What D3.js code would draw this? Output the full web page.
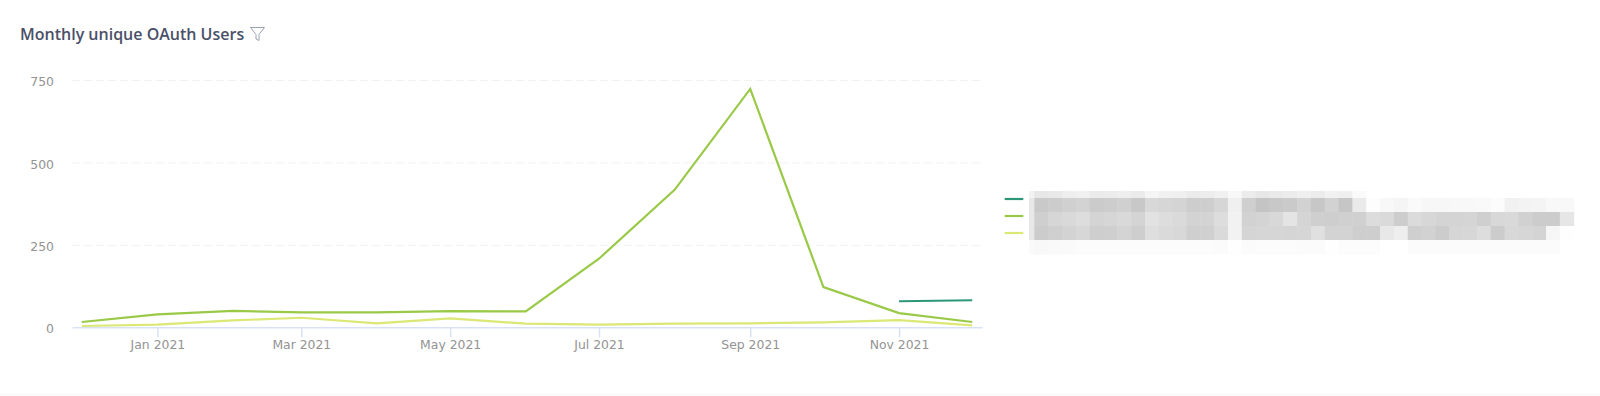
<!DOCTYPE html>
<html>
<head>
<script src="https://d3js.org/d3.v7.min.js"></script>
<style>
  body { margin: 0; background: #fff; }
</style>
</head>
<body>
<svg class="target" width="1600" height="396" style="display:block"></svg>
<script>

// one point per month, Dec 2020 to Dec 2021
const months = ['2020-12-01','2021-01-01','2021-02-01','2021-03-01','2021-04-01','2021-05-01','2021-06-01',
                '2021-07-01','2021-08-01','2021-09-01','2021-10-01','2021-11-01','2021-12-01']

const greenValues = [16, 39, 50, 45, 45, 49, 48, 208, 417, 723, 122, 43, 16]
const limeValues  = [4, 8, 21, 29, 12, 27, 11, 8, 11, 12, 15, 22, 6]
// this one only starts in november
const tealMonths = ['2021-11-01','2021-12-01']
const tealValues = [79, 82]

const yTicks = [0, 250, 500, 750]
const xTicks = ['2021-01-01','2021-03-01','2021-05-01','2021-07-01','2021-09-01','2021-11-01']

// legend names are pixelated in the source, so only the grey levels can be read
const mosaicRows = [
  [242,231,233,238,240,235,236,238,235,245,240,239,235,237,240,248,236,231,234,236,239,236,241,239,250,255,255,255,255,255,255,255,255,255,255,255,255,255,255,255],
  [232,201,204,208,211,203,205,208,200,216,214,212,205,206,214,240,207,196,200,202,210,199,210,198,234,253,248,245,250,247,247,248,248,249,252,241,243,244,248,248],
  [232,207,214,217,221,212,214,217,212,226,221,218,211,212,221,242,210,212,216,228,213,207,206,208,208,220,218,205,219,215,212,212,213,207,216,217,209,204,204,230],
  [232,204,207,211,215,206,207,212,206,222,218,216,207,208,218,242,213,214,214,213,214,224,211,211,206,206,232,238,207,210,204,214,215,221,204,216,214,212,246,254],
  [250,248,249,250,252,252,252,252,252,252,252,252,252,252,251,254,251,252,252,252,251,251,254,252,252,252,255,255,251,251,251,251,251,251,251,251,251,251,251,255]
]

const width = 1600
const height = 396
const margin = { top: 80, right: 618, bottom: 68.7, left: 72 }
const axisColor = '#d8e2f3'
const labelColor = '#939393'
const labelFont = '"DejaVu Sans", sans-serif'

const parseDay = d3.utcParse('%Y-%m-%d')

const xScale = d3.scaleUtc(
  [parseDay('2020-11-27'), parseDay('2021-12-05')],
  [margin.left, width - margin.right]
)

const yScale = d3.scaleLinear([0, 750], [height - margin.bottom, margin.top])

const svg = d3.select('.target')

svg.append('rect')
    .attr('y', 393)
    .attr('width', width)
    .attr('height', 3)
    .attr('fill', '#fbfbfb')

svg.append('text')
    .attr('x', 20)
    .attr('y', 40)
    .style('font-family', '"Open Sans", sans-serif')
    .style('font-weight', 600)
    .style('font-size', '16px')
    .style('fill', '#4a5068')
    .text('Monthly unique OAuth Users')

// funnel icon next to the title
svg.append('path')
    .attr('d', 'M250.5 27.5H264.5L259 34.5V40.5L256 39V34.5Z')
    .attr('fill', 'none')
    .attr('stroke', '#9aa1b0')
    .attr('stroke-width', 1)

// gridlines + y labels
const yAxis = d3.axisLeft(yScale)
    .tickValues(yTicks.slice(1))
    .tickSize(-(width - margin.right - margin.left))
    .tickPadding(18)

svg.append('g')
    .attr('transform', `translate(${margin.left},0)`)
    .call(yAxis)
    .call(g => g.select('.domain').remove())
    .call(g => g.selectAll('.tick line')
      .attr('stroke', '#f2f2f2')
      .attr('stroke-dasharray', '8 4'))
    .call(g => g.selectAll('.tick text').attr('dy', '0.45em'))

// the zero label sits on the axis line, no gridline there
svg.append('g')
    .attr('transform', `translate(${margin.left},0)`)
    .call(d3.axisLeft(yScale).tickValues(yTicks.slice(0, 1)).tickSize(0).tickPadding(18))
    .call(g => g.select('.domain').remove())
    .call(g => g.selectAll('.tick text').attr('dy', '0.45em'))

const xAxis = d3.axisBottom(xScale)
    .tickValues(xTicks.map(parseDay))
    .tickFormat(d3.utcFormat('%b %Y'))
    .tickSizeInner(10)
    .tickSizeOuter(0)
    .tickPadding(2.5)

svg.append('g')
    .attr('transform', `translate(0,${height - margin.bottom})`)
    .call(xAxis)
    .call(g => g.select('.domain').attr('stroke', axisColor).attr('stroke-width', 1.5))
    .call(g => g.selectAll('.tick line').attr('stroke', axisColor).attr('stroke-width', 1.5))

svg.selectAll('.tick text')
    .style('font-family', labelFont)
    .style('font-size', '12.4px')
    .style('fill', labelColor)

const line = d3.line()
    .x(d => xScale(d.date))
    .y(d => yScale(d.value))

const zipSeries = (dates, values) => dates.map((m, i) => ({ date: parseDay(m), value: values[i] }))

const series = [
  { color: '#2e9678', points: zipSeries(tealMonths, tealValues) },
  { color: '#99c947', points: zipSeries(months, greenValues) },
  { color: '#dbe875', points: zipSeries(months, limeValues) }
]

svg.append('defs').append('filter')
    .attr('id', 'soft')
    .attr('x', '-5%').attr('y', '-20%').attr('width', '110%').attr('height', '140%')
  .append('feGaussianBlur')
    .attr('stdDeviation', 0.7)

// draw lime first so that green stays on top, as in the reference
svg.append('g')
    .selectAll('path')
    .data(series.slice().reverse())
    .join('path')
      .attr('d', d => line(d.points))
      .attr('fill', 'none')
      .attr('stroke', d => d.color)
      .attr('stroke-width', 2.2)

// legend
const legendY = d3.scalePoint([0, 1, 2], [199, 233])

svg.append('g')
    .selectAll('line')
    .data(series)
    .join('line')
      .attr('x1', 1004.7)
      .attr('x2', 1023.3)
      .attr('y1', (d, i) => legendY(i))
      .attr('y2', (d, i) => legendY(i))
      .attr('stroke', d => d.color)
      .attr('stroke-width', 2.2)

const mosaicX = d3.scaleBand(d3.range(mosaicRows[0].length), [1020.5, 1573.7])
const mosaicY = d3.scaleBand(d3.range(mosaicRows.length), [184, 254])
const grey = d3.scaleLinear([0, 255], ['#000', '#fff'])

svg.select('defs').append('clipPath')
    .attr('id', 'mosaic-clip')
  .append('rect')
    .attr('x', 1029)
    .attr('y', 191)
    .attr('width', 560)
    .attr('height', 70)

svg.append('g')
    .attr('clip-path', 'url(#mosaic-clip)')
  .append('g')
    .attr('filter', 'url(#soft)')
    .selectAll('g')
    .data(mosaicRows)
    .join('g')
      .attr('transform', (d, i) => `translate(0,${mosaicY(i)})`)
    .selectAll('rect')
    .data(d => d)
    .join('rect')
      .attr('x', (d, i) => mosaicX(i))
      .attr('width', mosaicX.bandwidth() + 0.5)
      .attr('height', mosaicY.bandwidth() + 0.5)
      .attr('fill', d => grey(d))

</script>
</body>
</html>
